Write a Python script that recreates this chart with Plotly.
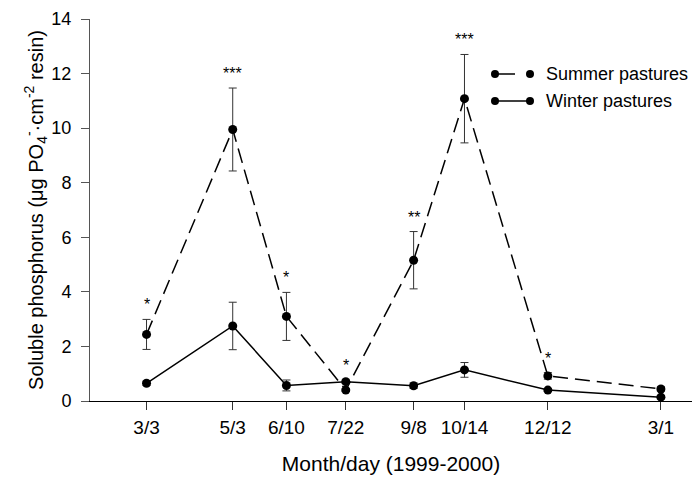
import plotly.graph_objects as go

dates = ["1999-03-03", "1999-05-03", "1999-06-10", "1999-07-22",
         "1999-09-08", "1999-10-14", "1999-12-12", "2000-03-01"]
tick_labels = ["3/3", "5/3", "6/10", "7/22", "9/8", "10/14", "12/12", "3/1"]

summer = [2.44, 9.95, 3.10, 0.40, 5.16, 11.08, 0.92, 0.44]
summer_err = [0.55, 1.52, 0.88, 0.05, 1.05, 1.62, 0.12, 0.08]
winter = [0.65, 2.75, 0.57, 0.71, 0.56, 1.14, 0.40, 0.14]
winter_err = [0.08, 0.87, 0.20, 0.06, 0.10, 0.27, 0.05, 0.06]
stars = ["*", "***", "*", "*", "**", "***", "*", ""]

FONT = "Liberation Sans, Arial, sans-serif"
ERRC = "#333333"

fig = go.Figure()
fig.add_trace(go.Scatter(
    x=dates, y=summer, mode="lines+markers", name="Summer pastures",
    line=dict(color="black", width=1.5, dash="15px,7px"),
    marker=dict(color="black", size=9),
    error_y=dict(type="data", array=summer_err, color=ERRC, thickness=1, width=4),
))
fig.add_trace(go.Scatter(
    x=dates, y=winter, mode="lines+markers", name="Winter pastures",
    line=dict(color="black", width=1.5),
    marker=dict(color="black", size=9),
    error_y=dict(type="data", array=winter_err, color=ERRC, thickness=1, width=4),
))

for d, s, se, w, we, t in zip(dates, summer, summer_err, winter, winter_err, stars):
    if t:
        fig.add_annotation(x=d, y=max(s + se, w + we), text=t, showarrow=False,
                           yanchor="bottom", yshift=4,
                           font=dict(family=FONT, size=16, color="black"))

# custom legend (pixel-based layout)
L, R, T, B = 90, 0, 19, 80
W, H = 692, 481
pw, ph = W - L - R, H - T - B
def px(x): return (x - L) / pw
def py(y): return (H - B - y) / ph

legend = [("Summer pastures", 74, True), ("Winter pastures", 101, False)]
for name, yy, dashed in legend:
    x_end = 515 if dashed else 530
    fig.add_shape(type="line", xref="paper", yref="paper",
                  x0=px(495), x1=px(x_end), y0=py(yy), y1=py(yy),
                  line=dict(color="black", width=1.5))
    for cx in (495, 530):
        fig.add_shape(type="circle", xref="paper", yref="paper",
                      xsizemode="pixel", ysizemode="pixel",
                      xanchor=px(cx), yanchor=py(yy),
                      x0=-4, x1=4, y0=-4, y1=4,
                      fillcolor="black", line=dict(color="black", width=0))
    fig.add_annotation(xref="paper", yref="paper", x=px(544), y=py(yy),
                       text=name, showarrow=False, xanchor="left", yanchor="middle",
                       font=dict(family=FONT, size=18, color="black"))

fig.update_layout(
    width=W, height=H,
    margin=dict(l=L, r=R, t=T, b=B),
    paper_bgcolor="white", plot_bgcolor="white",
    showlegend=False,
    font=dict(family=FONT, color="black"),
)
fig.update_xaxes(
    type="date", range=["1999-01-22", "2000-03-23"],
    tickmode="array", tickvals=dates, ticktext=tick_labels,
    showgrid=False, zeroline=False,
    showline=True, linecolor="black", linewidth=1,
    ticks="outside", ticklen=8, tickcolor="#333", tickwidth=1,
    ticklabelstandoff=1,
    tickfont=dict(family=FONT, size=19, color="black"),
    title=dict(text="Month/day (1999-2000)", standoff=19,
               font=dict(family=FONT, size=21, color="black")),
)
fig.update_yaxes(
    range=[0, 14], tickvals=[0, 2, 4, 6, 8, 10, 12, 14],
    showgrid=False, zeroline=False,
    showline=True, linecolor="#555", linewidth=1,
    ticks="outside", ticklen=8, tickcolor="#555", tickwidth=1,
    ticklabelstandoff=6,
    tickfont=dict(family=FONT, size=18, color="black"),
    title=dict(text="Soluble phosphorus (μg PO<sub>4</sub><sup>-</sup>·cm<sup>-2</sup> resin)",
               standoff=2, font=dict(family=FONT, size=20, color="black")),
)

fig.write_html("out.html", config={"displayModeBar": False},
               post_script="document.body.style.margin='0';document.body.style.padding='0';")
